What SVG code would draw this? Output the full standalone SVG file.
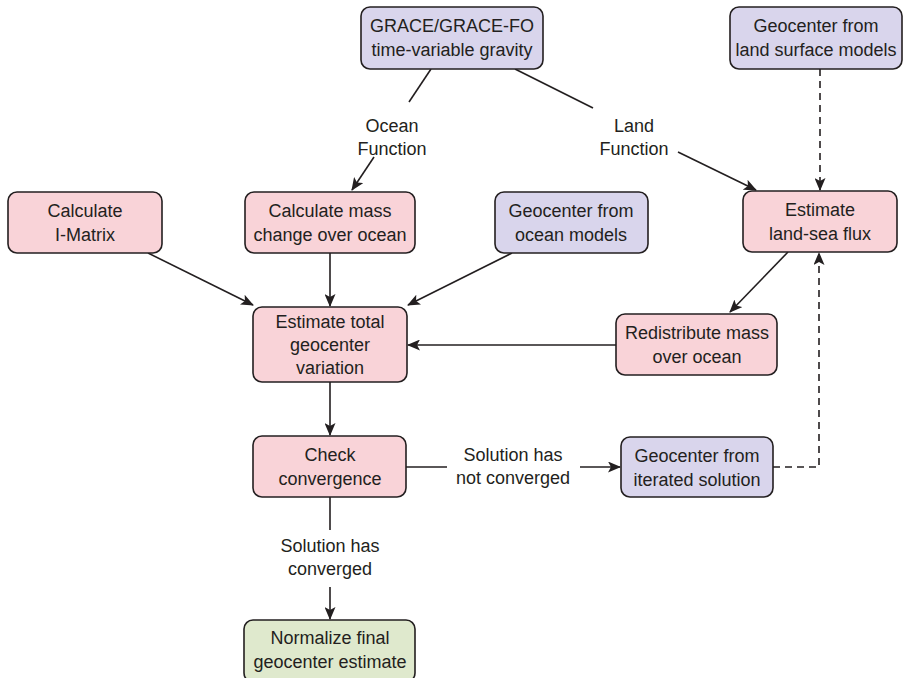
<svg xmlns="http://www.w3.org/2000/svg" width="904" height="678" viewBox="0 0 904 678">
  <style>
    .box { stroke: #231f20; stroke-width: 1.6; }
    .pink { fill: #f9d3d8; }
    .purple { fill: #d9d5ec; }
    .green { fill: #dfe9cd; }
    text { font-family: "Liberation Sans", Arial, sans-serif; font-size: 18px; fill: #231f20; text-anchor: middle; }
    .edge { stroke: #231f20; stroke-width: 1.6; fill: none; }
    .arrow { marker-end: url(#head); }
    .dash { stroke-dasharray: 7 5; }
  </style>
  <defs>
    <marker id="head" viewBox="0 0 13 11" refX="12" refY="5.5" markerWidth="13" markerHeight="11" markerUnits="userSpaceOnUse" orient="auto">
      <path d="M0,0 L13,5.5 L0,11 L3,5.5 Z" fill="#231f20"/>
    </marker>
  </defs>

  <g id="connectors">
    <!-- gravity to ocean mass change, labelled -->
    <line class="edge" x1="431" y1="69" x2="409" y2="102"/>
    <line class="edge arrow" x1="374" y1="157" x2="352" y2="190"/>
    <text x="392" y="132">Ocean</text>
    <text x="392" y="155">Function</text>
    <!-- gravity to land-sea flux, labelled -->
    <line class="edge" x1="515" y1="69" x2="593" y2="108"/>
    <line class="edge arrow" x1="678" y1="152" x2="756" y2="190"/>
    <text x="634" y="132">Land</text>
    <text x="634" y="155">Function</text>
    <!-- land surface models to land-sea flux -->
    <line class="edge arrow dash" x1="820" y1="69" x2="820" y2="190"/>
    <!-- inputs to total geocenter -->
    <line class="edge arrow" x1="148" y1="253" x2="253" y2="305"/>
    <line class="edge arrow" x1="330" y1="253" x2="330" y2="306"/>
    <line class="edge arrow" x1="512" y1="253" x2="408" y2="305"/>
    <!-- flux to redistribution -->
    <line class="edge arrow" x1="788" y1="252" x2="730" y2="312"/>
    <line class="edge arrow" x1="616" y1="345" x2="408" y2="345"/>
    <!-- total to convergence check -->
    <line class="edge arrow" x1="330" y1="382" x2="330" y2="435"/>
    <!-- not converged branch -->
    <line class="edge" x1="406" y1="467" x2="447" y2="467"/>
    <line class="edge arrow" x1="580" y1="467" x2="620" y2="467"/>
    <text x="513" y="461">Solution has</text>
    <text x="513" y="484">not converged</text>
    <!-- iterated solution back to flux -->
    <polyline class="edge arrow dash" points="773,467 819,467 819,253"/>
    <!-- converged branch -->
    <line class="edge" x1="330" y1="497" x2="330" y2="530"/>
    <line class="edge arrow" x1="330" y1="587" x2="330" y2="619"/>
    <text x="330" y="552">Solution has</text>
    <text x="330" y="575">converged</text>
  </g>

  <g id="grace">
    <rect class="box purple" x="361" y="7" width="182" height="62" rx="9"/>
    <text x="452" y="32">GRACE/GRACE-FO</text>
    <text x="452" y="56">time-variable gravity</text>
  </g>
  <g id="land-models">
    <rect class="box purple" x="730" y="7" width="172" height="62" rx="9"/>
    <text x="816" y="32">Geocenter from</text>
    <text x="816" y="56">land surface models</text>
  </g>
  <g id="i-matrix">
    <rect class="box pink" x="8" y="192" width="154" height="61" rx="9"/>
    <text x="85" y="217">Calculate</text>
    <text x="85" y="241">I-Matrix</text>
  </g>
  <g id="ocean-mass">
    <rect class="box pink" x="245" y="192" width="170" height="61" rx="9"/>
    <text x="330" y="217">Calculate mass</text>
    <text x="330" y="241">change over ocean</text>
  </g>
  <g id="ocean-models">
    <rect class="box purple" x="495" y="192" width="153" height="61" rx="9"/>
    <text x="571" y="217">Geocenter from</text>
    <text x="571" y="241">ocean models</text>
  </g>
  <g id="land-sea-flux">
    <rect class="box pink" x="743" y="191" width="154" height="61" rx="9"/>
    <text x="820" y="216">Estimate</text>
    <text x="820" y="240">land-sea flux</text>
  </g>
  <g id="total-geocenter">
    <rect class="box pink" x="253" y="307" width="154" height="75" rx="9"/>
    <text x="330" y="328">Estimate total</text>
    <text x="330" y="351">geocenter</text>
    <text x="330" y="374">variation</text>
  </g>
  <g id="redistribute">
    <rect class="box pink" x="616" y="314" width="161" height="61" rx="9"/>
    <text x="697" y="339">Redistribute mass</text>
    <text x="697" y="363">over ocean</text>
  </g>
  <g id="check-convergence">
    <rect class="box pink" x="253" y="436" width="153" height="61" rx="9"/>
    <text x="330" y="461">Check</text>
    <text x="330" y="485">convergence</text>
  </g>
  <g id="iterated">
    <rect class="box purple" x="621" y="437" width="152" height="60" rx="9"/>
    <text x="697" y="462">Geocenter from</text>
    <text x="697" y="486">iterated solution</text>
  </g>
  <g id="normalize">
    <rect class="box green" x="244" y="620" width="171" height="62" rx="9"/>
    <text x="330" y="644">Normalize final</text>
    <text x="330" y="668">geocenter estimate</text>
  </g>
</svg>
